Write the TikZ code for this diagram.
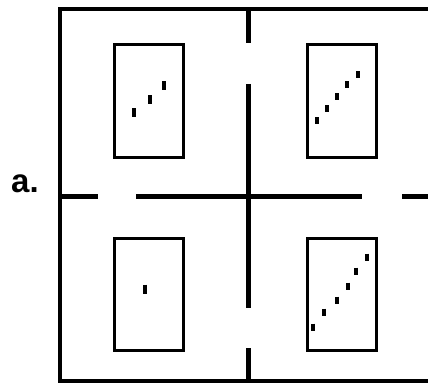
\documentclass[tikz,border=0pt]{standalone}
\usepackage{fontspec}
\setmainfont{Liberation Sans}
\usepackage{tikz}
\usetikzlibrary{positioning}

\tikzset{
  wall/.style={line width=5pt},
  frame/.style={line width=3.6pt},
  cell/.style={line width=3pt},
  tick/.style={line width=3.4pt}
}

\begin{document}
\begin{tikzpicture}[x=1pt, y=-1pt]
  \useasboundingbox (0, 0) rectangle (428, 385);
  % outer frame (open on the right)
  \draw[frame] (428, 9) -- (60, 9) -- (60, 381) -- (428, 381);
  % vertical walls
  \draw[wall] (248, 9) -- (248, 43);
  \draw[wall] (248, 84) -- (248, 308);
  \draw[wall] (248, 348) -- (248, 381);
  % horizontal walls
  \draw[wall] (60, 196) -- (98, 196);
  \draw[wall] (136, 196) -- (362, 196);
  \draw[wall] (402, 196) -- (428, 196);
  % four cells
  \draw[cell] (114, 45) rectangle (183, 157);
  \draw[cell] (307, 45) rectangle (376, 157);
  \draw[cell] (114, 238) rectangle (183, 350);
  \draw[cell] (307, 238) rectangle (376, 350);
  % marks
  \foreach \x/\y in {134/113, 150/100, 164/86}
    \draw[tick] (\x, \y-4.5) -- (\x, \y+4.5);
  \foreach \x/\y in {317/121, 327/109, 337/97, 347/85, 358/75}
    \draw[tick] (\x, \y-3.5) -- (\x, \y+3.5);
  \draw[tick] (145, 284.5) -- (145, 293.5);
  \foreach \x/\y in {313/327, 324/312, 337/300, 348/286, 356/271, 367/257}
    \draw[tick] (\x, \y-3.5) -- (\x, \y+3.5);
  % label
  \node[font=\bfseries\fontsize{33}{33}\selectfont, inner sep=0pt, anchor=base] (lbl) at (25, 192) {a.};
\end{tikzpicture}
\end{document}
